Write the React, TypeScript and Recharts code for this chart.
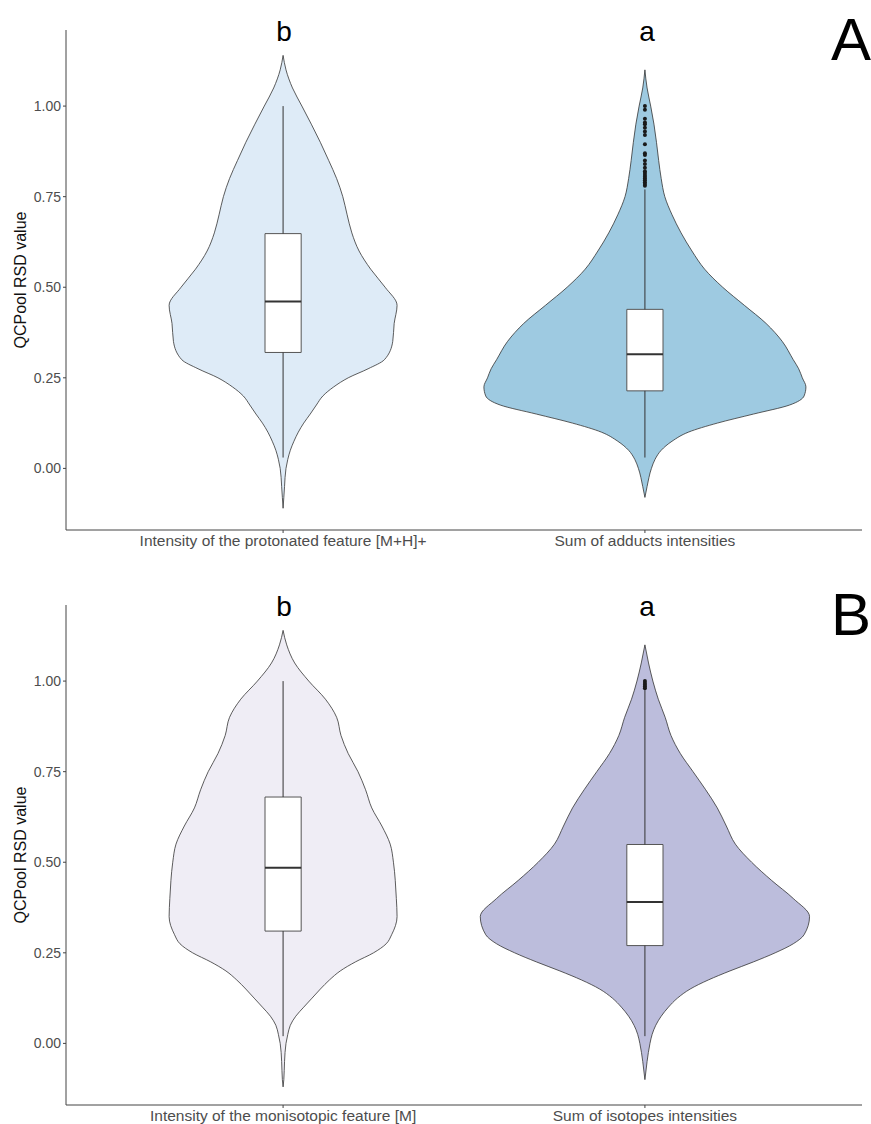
import React from 'react';
import { ComposedChart, Area, XAxis, YAxis, ReferenceArea, ReferenceLine, Scatter } from 'recharts';

// panel A: protonated feature vs sum of adducts
const categoriesA = ['Intensity of the protonated feature [M+H]+', 'Sum of adducts intensities'];
const lettersA = ['b', 'a'];
// panel B: monoisotopic feature vs sum of isotopes
const categoriesB = ['Intensity of the monisotopic feature [M]', 'Sum of isotopes intensities'];
const lettersB = ['b', 'a'];

const yTicks = [0, 0.25, 0.5, 0.75, 1];

// RSD levels where the violin half-widths were read (x units)
const levelsA = [-0.11, -0.08, -0.05, 0, 0.025, 0.05, 0.075, 0.1, 0.125, 0.15, 0.175, 0.2, 0.225, 0.25, 0.275, 0.3,
  0.35, 0.4, 0.45, 0.5, 0.55, 0.6, 0.65, 0.7, 0.75, 0.8, 0.85, 0.9, 0.95, 1.0, 1.05, 1.1, 1.14];
const protonatedWidth = [0, 0.002, 0.004, 0.008, 0.013, 0.02, 0.03, 0.042, 0.057, 0.075, 0.092, 0.11, 0.14, 0.18, 0.235, 0.28,
  0.303, 0.307, 0.315, 0.282, 0.242, 0.21, 0.19, 0.177, 0.165, 0.148, 0.126, 0.103, 0.078, 0.052, 0.026, 0.008, 0];
const adductsWidth = [null, 0, 0.006, 0.018, 0.028, 0.045, 0.075, 0.12, 0.2, 0.3, 0.4, 0.44, 0.445, 0.435, 0.425, 0.41,
  0.38, 0.335, 0.275, 0.215, 0.165, 0.13, 0.1, 0.075, 0.055, 0.045, 0.038, 0.032, 0.025, 0.016, 0.006, 0, null];

const levelsB = [-0.12, -0.1, -0.05, 0, 0.025, 0.05, 0.075, 0.1, 0.125, 0.15, 0.175, 0.2, 0.225, 0.25, 0.275, 0.3,
  0.35, 0.4, 0.45, 0.5, 0.55, 0.6, 0.65, 0.7, 0.75, 0.8, 0.85, 0.9, 0.95, 1.0, 1.05, 1.1, 1.14];
const monoWidth = [0, 0.002, 0.004, 0.008, 0.013, 0.02, 0.035, 0.057, 0.08, 0.103, 0.128, 0.158, 0.2, 0.25, 0.285, 0.3,
  0.315, 0.313, 0.31, 0.305, 0.296, 0.273, 0.245, 0.228, 0.207, 0.18, 0.16, 0.148, 0.117, 0.071, 0.032, 0.01, 0];
const isotopesWidth = [null, 0, 0.006, 0.014, 0.02, 0.03, 0.045, 0.065, 0.09, 0.125, 0.175, 0.235, 0.3, 0.36, 0.41, 0.44,
  0.455, 0.41, 0.35, 0.295, 0.25, 0.225, 0.2, 0.168, 0.133, 0.098, 0.072, 0.056, 0.037, 0.022, 0.01, 0, null];

// [lower whisker, q1, median, q3, upper whisker]
const protonatedBox = [0.03, 0.32, 0.461, 0.648, 1.0];
const adductsBox = [0.03, 0.214, 0.315, 0.439, 0.77];
const monoBox = [0.02, 0.31, 0.485, 0.68, 1.0];
const isotopesBox = [0.02, 0.27, 0.39, 0.549, 0.975];

const adductsOutliers = [0.78, 0.785, 0.79, 0.795, 0.8, 0.805, 0.81, 0.815, 0.82, 0.83, 0.84, 0.85, 0.865, 0.87,
  0.895, 0.92, 0.93, 0.94, 0.95, 0.955, 0.965, 0.99, 1.0];
const isotopesOutliers = [0.98, 0.985, 0.99, 0.995, 1.0];

const font = '"Liberation Sans", Arial, sans-serif';

const Box = ({ pos, s }: { pos: number; s: number[] }) => (
  <>
    <ReferenceLine segment={[{ x: pos, y: s[0] }, { x: pos, y: s[1] }]} stroke="#333" strokeWidth={1} />
    <ReferenceLine segment={[{ x: pos, y: s[3] }, { x: pos, y: s[4] }]} stroke="#333" strokeWidth={1} />
    <ReferenceArea x1={pos - 0.05} x2={pos + 0.05} y1={s[1]} y2={s[3]} fill="#fff" fillOpacity={1} stroke="#555" strokeWidth={1} />
    <ReferenceLine segment={[{ x: pos - 0.05, y: s[2] }, { x: pos + 0.05, y: s[2] }]} stroke="#333" strokeWidth={2} />
  </>
);

function ViolinPanel(props: {
  levels: number[]; left: (number | null)[]; right: (number | null)[];
  boxes: number[][]; outliers: number[]; categories: string[]; letters: string[];
  fills: string[]; tag: string; top: number; height: number;
}) {
  const { levels, left, right, boxes, outliers, categories, letters, fills, tag, top, height } = props;
  const rows = levels.map((y, i) => ({ y, w1: left[i], w2: right[i] }));
  const rows1 = rows.filter((r) => r.w1 != null);
  const rows2 = rows.filter((r) => r.w2 != null);
  const outlierPts = outliers.map((y) => ({ x: 2, y }));
  const letterStyle: React.CSSProperties = {
    position: 'absolute', top: 18, transform: 'translateX(-50%)', fontFamily: font, fontSize: 28, color: '#000', lineHeight: 1,
  };

  return (
    <div style={{ position: 'absolute', left: 0, top, width: 871, height }}>
      <ComposedChart width={871} height={height} data={rows} layout="vertical"
        margin={{ top: 30, right: 9, bottom: 0, left: 10 }}>
        <XAxis type="number" domain={[0.4, 2.6]} ticks={[1, 2]} allowDataOverflow
          tickFormatter={(v) => categories[v - 1]} height={height - 530}
          stroke="#444" tickSize={3} tickMargin={2}
          tick={{ fill: '#4d4d4d', fontSize: 15.5, fontFamily: font }} />
        <YAxis type="number" dataKey="y" domain={[-0.17, 1.21]} ticks={yTicks} allowDataOverflow reversed
          width={56} stroke="#444" tickSize={3} tickMargin={2}
          tickFormatter={(v) => v.toFixed(2)}
          tick={{ fill: '#4d4d4d', fontSize: 14, fontFamily: font }}
          label={{ value: 'QCPool RSD value', angle: -90, position: 'insideLeft', offset: 10,
            fontSize: 16, fill: '#111', fontFamily: font, style: { textAnchor: 'middle' } }} />
        <Area data={rows1} dataKey={(d: any) => [1 - d.w1, 1 + d.w1]} type="monotone"
          fill={fills[0]} fillOpacity={1} stroke="#333" strokeWidth={0.8} isAnimationActive={false} />
        <Area data={rows2} dataKey={(d: any) => [2 - d.w2, 2 + d.w2]} type="monotone"
          fill={fills[1]} fillOpacity={1} stroke="#333" strokeWidth={0.8} isAnimationActive={false} />
        {Box({ pos: 1, s: boxes[0] })}
        {Box({ pos: 2, s: boxes[1] })}
        <Scatter data={outlierPts} dataKey="x" isAnimationActive={false}
          shape={(p: any) => <circle cx={p.cx} cy={p.cy} r={2} fill="#1a1a1a" />} />
      </ComposedChart>
      <div style={{ ...letterStyle, left: 284 }}>{letters[0]}</div>
      <div style={{ ...letterStyle, left: 647 }}>{letters[1]}</div>
      <div style={{ ...letterStyle, left: 851, top: 10, fontSize: 60 }}>{tag}</div>
    </div>
  );
}

export default function App() {
  return (
    <div style={{ position: 'absolute', left: 0, top: 0, width: 871, height: 1124, overflow: 'hidden', background: '#fff' }}>
      <ViolinPanel levels={levelsA} left={protonatedWidth} right={adductsWidth}
        boxes={[protonatedBox, adductsBox]} outliers={adductsOutliers}
        categories={categoriesA} letters={lettersA} fills={['#deebf7', '#9ecae1']} tag="A" top={0} height={560} />
      <ViolinPanel levels={levelsB} left={monoWidth} right={isotopesWidth}
        boxes={[monoBox, isotopesBox]} outliers={isotopesOutliers}
        categories={categoriesB} letters={lettersB} fills={['#efedf5', '#bcbddc']} tag="B" top={575} height={549} />
    </div>
  );
}
